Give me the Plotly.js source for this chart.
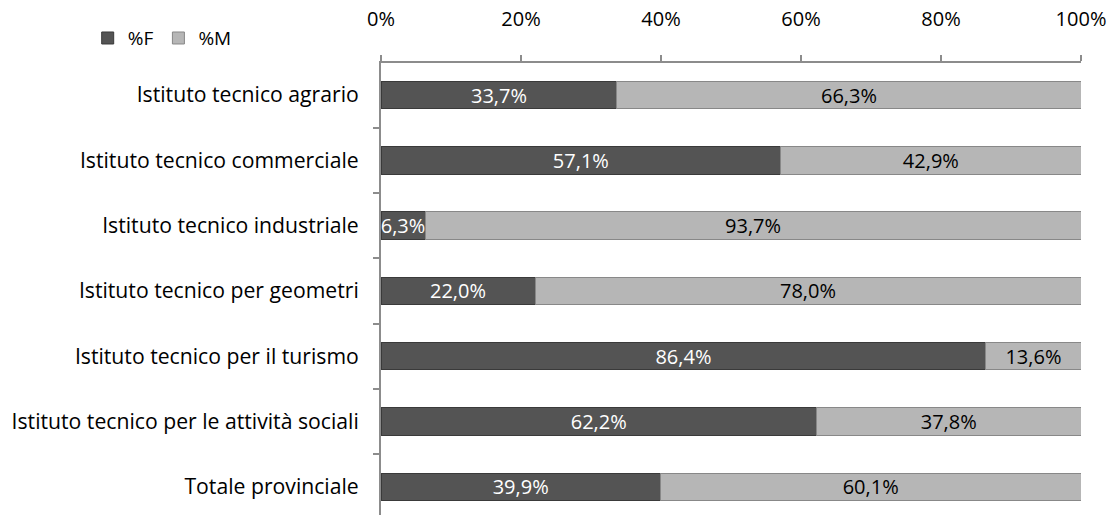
<!DOCTYPE html>
<html><head><meta charset="utf-8">
<script src="https://cdn.plot.ly/plotly-3.0.1.min.js"></script>
<style>body{margin:0;background:#fff}#c{width:1110px;height:515px}</style>
</head><body><div id="c"></div>
<script>
const categories = ["Istituto tecnico agrario","Istituto tecnico commerciale","Istituto tecnico industriale","Istituto tecnico per geometri","Istituto tecnico per il turismo","Istituto tecnico per le attività sociali","Totale provinciale"];
const pctF = [33.7, 57.1, 6.3, 22.0, 86.4, 62.2, 39.9];
const pctM = [66.3, 42.9, 93.7, 78.0, 13.6, 37.8, 60.1];
const xTicks = [0, 20, 40, 60, 80, 100];
const fmt = v => v.toFixed(1).replace('.', ',') + '%';
const FONT = 'Open Sans, sans-serif';
const traces = [
  {type:'bar', orientation:'h', name:'%F', y:categories, x:pctF, width:0.42,
   text:pctF.map(fmt), textposition:'inside', insidetextanchor:'middle',
   textfont:{color:'#ffffff', size:20, family:FONT},
   marker:{color:'#545454', line:{color:'#3a3a3a', width:1}}, hoverinfo:'none'},
  {type:'bar', orientation:'h', name:'%M', y:categories, x:pctM, width:0.42,
   text:pctM.map(fmt), textposition:'inside', insidetextanchor:'middle',
   textfont:{color:'#000000', size:20, family:FONT},
   marker:{color:'#b6b6b6', line:{color:'#888888', width:1}}, hoverinfo:'none'}
];
const layout = {
  width:1110, height:515, barmode:'stack', bargap:0.58,
  margin:{l:381, r:29, t:63, b:0, pad:0},
  paper_bgcolor:'#ffffff', plot_bgcolor:'#ffffff',
  font:{family:FONT, size:20, color:'#000'},
  uniformtext:{mode:'show', minsize:20},
  showlegend:true,
  legend:{orientation:'h', x:-0.419, y:1.055, xanchor:'left', yanchor:'middle',
          font:{size:19, family:FONT}, itemwidth:30, traceorder:'normal', tracegroupgap:0},
  xaxis:{side:'top', range:[0,100], tickvals:xTicks, ticktext:xTicks.map(v=>v+'%'),
         showgrid:false, zeroline:false, showline:true, linecolor:'#8c8c8c', linewidth:2,
         ticks:'outside', ticklen:6, tickcolor:'#8c8c8c', tickwidth:2, ticklabelstandoff:21,
         tickfont:{size:20, family:FONT}, fixedrange:true},
  yaxis:{type:'category', autorange:false, range:[6.43,-0.49], tickson:'boundaries',
         showgrid:false, zeroline:false, showline:true, linecolor:'#8c8c8c', linewidth:2,
         ticks:'outside', ticklen:6, tickcolor:'#8c8c8c', tickwidth:2, ticklabelstandoff:16,
         tickfont:{size:21.2, family:FONT}, fixedrange:true}
};
Plotly.newPlot('c', traces, layout, {displayModeBar:false, staticPlot:true});
</script></body></html>
